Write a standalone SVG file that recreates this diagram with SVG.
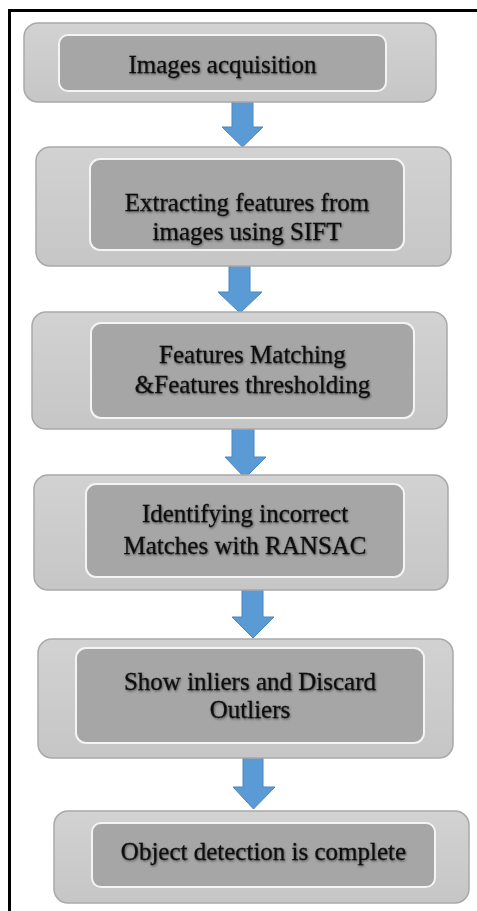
<svg xmlns="http://www.w3.org/2000/svg" width="477" height="911" viewBox="0 0 477 911">
<defs>
<linearGradient id="og" x1="0" y1="0" x2="0" y2="1">
<stop offset="0" stop-color="#d2d2d2"/>
<stop offset="1" stop-color="#c6c6c6"/>
</linearGradient>
<filter id="sh" x="-10%" y="-30%" width="120%" height="160%">
<feDropShadow dx="0.8" dy="1.2" stdDeviation="1.2" flood-color="#000" flood-opacity="0.5"/>
</filter>
</defs>
<style>
.outer{fill:url(#og);stroke:#a9a9a9;stroke-width:1.5}
.inner{fill:#a6a6a6;stroke:#f4f4f4;stroke-width:2}
.t{font-family:"Liberation Serif","Times New Roman",serif;font-size:25px;fill:#111;stroke:#111;stroke-width:0.3;text-anchor:middle;filter:url(#sh)}
.arr{fill:#5b9bd5;stroke:#4a86bf;stroke-width:1}
</style>
<rect x="0" y="0" width="477" height="911" fill="#fff"/>
<rect x="9.5" y="10.5" width="490" height="920" fill="none" stroke="#000" stroke-width="3"/>
<g id="connectors">
<polygon class="arr" points="232,102 253,102 253,127 263,127 242.5,147 222,127 232,127"/>
<polygon class="arr" points="229,266 250,266 250,292 262,292 240,313 218,292 229,292"/>
<polygon class="arr" points="232,429 254,429 254,457 266,457 245,478 225,457 232,457"/>
<polygon class="arr" points="242,590 263,590 263,617 274,617 253,638 232,617 242,617"/>
<polygon class="arr" points="243,758 263,758 263,787 275,787 253.5,809 233,787 243,787"/>
</g>
<g id="n1">
<rect class="outer" x="24" y="23" width="412" height="79" rx="14"/>
<rect class="inner" x="59" y="35" width="327" height="56" rx="9"/>
<text class="t" x="222.5" y="73" font-size="26">Images acquisition</text>
</g>
<g id="n2">
<rect class="outer" x="36" y="147" width="415" height="119" rx="14"/>
<rect class="inner" x="90" y="159" width="314" height="91" rx="10"/>
<text class="t" x="247" y="211">Extracting features from</text>
<text class="t" x="247" y="240">images using SIFT</text>
</g>
<g id="n3">
<rect class="outer" x="32" y="312" width="415" height="117" rx="14"/>
<rect class="inner" x="91" y="323" width="323" height="95" rx="10"/>
<text class="t" x="252.5" y="363">Features Matching</text>
<text class="t" x="252.5" y="393">&amp;Features thresholding</text>
</g>
<g id="n4">
<rect class="outer" x="34" y="475" width="414" height="115" rx="14"/>
<rect class="inner" x="86" y="484" width="318" height="93" rx="10"/>
<text class="t" x="245" y="522">Identifying incorrect</text>
<text class="t" x="245" y="554">Matches with RANSAC</text>
</g>
<g id="n5">
<rect class="outer" x="38" y="639" width="415" height="119" rx="14"/>
<rect class="inner" x="76" y="648" width="348" height="95" rx="10"/>
<text class="t" x="250" y="690">Show inliers and Discard</text>
<text class="t" x="250" y="718">Outliers</text>
</g>
<g id="n6">
<rect class="outer" x="54" y="811" width="415" height="92" rx="14"/>
<rect class="inner" x="92" y="823" width="343" height="64" rx="9"/>
<text class="t" x="263.5" y="860">Object detection is complete</text>
</g>
</svg>
